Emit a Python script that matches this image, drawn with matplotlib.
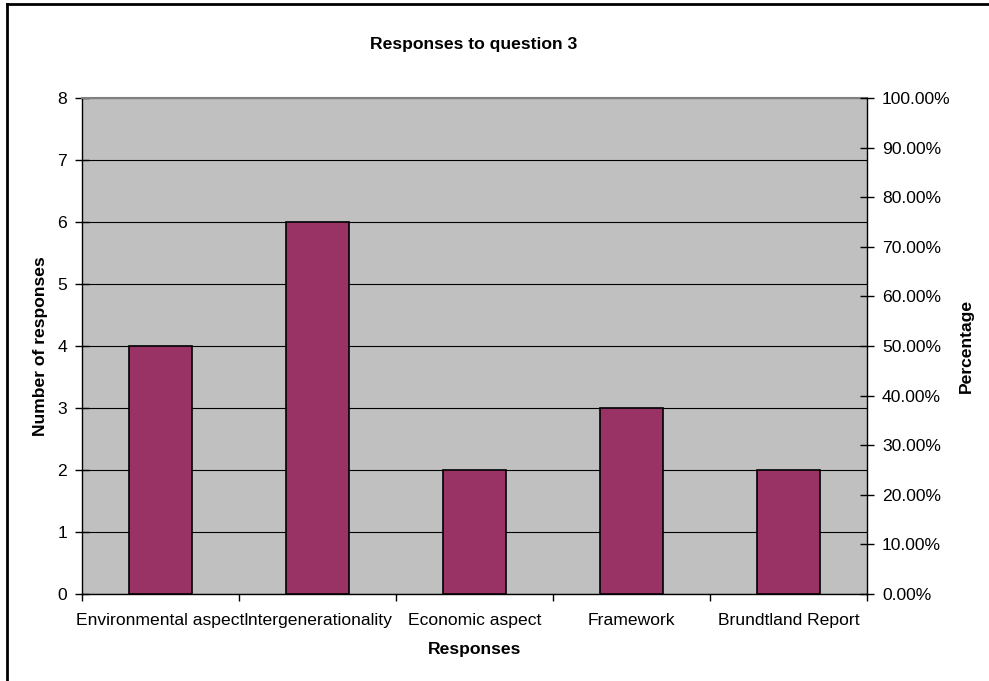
import matplotlib.pyplot as plt
from matplotlib.ticker import FuncFormatter, MultipleLocator

plt.rcParams['font.family'] = ['Liberation Sans', 'DejaVu Sans']

# Data
responses = ['Environmental aspect', 'Intergenerationality', 'Economic aspect',
             'Framework', 'Brundtland Report']
counts = [4, 6, 2, 3, 2]

FS = 12.6
W, H = 989, 681
fig = plt.figure(figsize=(W / 100, H / 100), dpi=100)

# plot area in pixels: left 82, right 867, top 98, bottom 594
ax = fig.add_axes([82 / W, 1 - 594 / H, (867 - 82) / W, (594 - 98) / H])
ax.set_facecolor('#C0C0C0')

x = list(range(len(responses)))
ax.bar(x, counts, width=0.4, color='#993366', edgecolor='black', linewidth=1.2, zorder=3)

ax.set_xlim(-0.5, len(responses) - 0.5)
ax.set_ylim(0, 8)
ax.yaxis.set_major_locator(MultipleLocator(1))
ax.grid(axis='y', color='black', linewidth=0.8, zorder=1)
ax.set_axisbelow(True)

# category boundary ticks on x axis
ax.set_xticks([i - 0.5 for i in range(len(responses) + 1)])
ax.set_xticklabels([])
ax.set_xticks(x, minor=True)
ax.set_xticklabels(responses, minor=True, fontsize=FS)
ax.tick_params(axis='x', which='minor', length=0, pad=14)
ax.tick_params(axis='x', which='major', length=5, width=1, direction='out')
ax.tick_params(axis='y', which='major', length=10, width=1, direction='inout', labelsize=FS, pad=5.8)

for side in ['top', 'right']:
    ax.spines[side].set_visible(False)
ax.spines['left'].set_linewidth(1)
ax.spines['bottom'].set_linewidth(1)
ax.spines['top'].set_visible(True)
ax.spines['top'].set_color('#808080')
ax.spines['top'].set_linewidth(1.5)

ax2 = ax.twinx()
ax2.set_ylim(0, 1)
ax2.yaxis.set_major_locator(MultipleLocator(0.1))
ax2.yaxis.set_major_formatter(FuncFormatter(lambda v, p: f'{v * 100:.2f}%'))
ax2.tick_params(axis='y', length=10, width=1, direction='inout', labelsize=FS, pad=5.8)
for side in ['top', 'left', 'bottom']:
    ax2.spines[side].set_visible(False)
ax2.spines['right'].set_linewidth(1)

ax.set_xlabel('Responses', fontsize=FS, fontweight='bold', labelpad=10)
ax.set_ylabel('Number of responses', fontsize=FS, fontweight='bold', labelpad=6.6)
ax2.set_ylabel('Percentage', fontsize=FS, fontweight='bold', labelpad=6)
fig.text(474 / W, 1 - 45 / H, 'Responses to question 3', ha='center', va='center',
         fontsize=FS, fontweight='bold')

# outer chart border (left and top visible)
fig.add_artist(plt.Line2D([7 / W, 7 / W], [0, 1 - 4 / H], transform=fig.transFigure,
                          color='black', linewidth=2))
fig.add_artist(plt.Line2D([7 / W, 1], [1 - 4 / H, 1 - 4 / H], transform=fig.transFigure,
                          color='black', linewidth=2))

fig.savefig('out.png', dpi=100)
